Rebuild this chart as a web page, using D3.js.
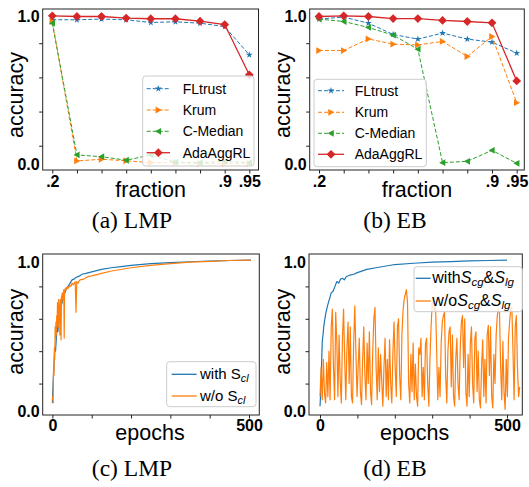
<!DOCTYPE html>
<html><head><meta charset="utf-8">
<script src="https://cdn.jsdelivr.net/npm/d3@7"></script>
<style>body{margin:0;background:#fff}svg{display:block}</style>
</head><body>
<svg id="chart" width="529" height="487"></svg>
<script>
// ---------------- data ----------------
const fractions = [".2", ".3", ".4", ".5", ".6", ".7", ".8", ".9", ".95"];
const fractionTickLabels = [".2", "", "", "", "", "", "", ".9", ".95"];
const methods = ["FLtrust", "Krum", "C-Median", "AdaAggRL"];
const yEndLabels = ["0.0", "1.0"];

// (a) LMP
const lmpFLtrust  = [0.937, 0.937, 0.941, 0.937, 0.921, 0.925, 0.917, 0.897, 0.732];
const lmpKrum     = [0.927, 0.111, 0.121, 0.112, 0.101, 0.101, 0.097, 0.097, 0.097];
const lmpCMedian  = [0.917, 0.146, 0.136, 0.115, 0.146, 0.103, 0.101, 0.109, 0.101];
const lmpAdaAggRL = [0.960, 0.956, 0.956, 0.947, 0.943, 0.943, 0.929, 0.909, 0.615];
// (b) EB
const ebFLtrust  = [0.941, 0.953, 0.917, 0.851, 0.824, 0.859, 0.824, 0.806, 0.742];
const ebKrum     = [0.757, 0.757, 0.825, 0.794, 0.790, 0.810, 0.722, 0.839, 0.452];
const ebCMedian  = [0.941, 0.927, 0.892, 0.847, 0.765, 0.101, 0.109, 0.173, 0.097];
const ebAdaAggRL = [0.956, 0.960, 0.956, 0.944, 0.944, 0.933, 0.927, 0.919, 0.579];

// (c) LMP training curves
const epochTicks = [0, 100, 200, 300, 400, 500];
const epochTickLabels = ["0", "", "", "", "", "500"];
const cWithEpochs = [0,2,4,6,8,10,12,14,16,18,20,22,25,28,30,35,40,45,50,55,60,65,70,75,85,100,125,150,175,200,250,300,350,400,450,505];
const cWithScl    = [0.08,0.22,0.31,0.42,0.40,0.48,0.55,0.52,0.60,0.58,0.65,0.68,0.70,0.74,0.75,0.78,0.80,0.82,0.84,0.845,0.855,0.86,0.865,0.875,0.88,0.89,0.905,0.915,0.922,0.93,0.94,0.947,0.952,0.956,0.96,0.962];
const cWoEpochs = [0,1,2,3,4,5,6,7,8,9,10,11,12,13,14,15,16,17,18,19,20,21,22,23,24,25,27,29,30,31,33,35,38,41,44,47,50,53,56,58,60,62,65,70,80,90,100,125,150,200,250,300,350,400,450,505];
const cWoScl    = [0.10,0.12,0.08,0.30,0.25,0.42,0.35,0.55,0.48,0.58,0.50,0.62,0.55,0.70,0.60,0.55,0.72,0.62,0.68,0.50,0.72,0.65,0.47,0.74,0.70,0.76,0.72,0.78,0.48,0.76,0.79,0.78,0.80,0.79,0.81,0.80,0.82,0.81,0.82,0.83,0.64,0.83,0.82,0.84,0.845,0.86,0.865,0.88,0.895,0.915,0.93,0.94,0.95,0.955,0.96,0.962];

// (d) EB training curves
const dWithEpochs = [0,2,4,6,8,10,13,16,20,25,30,35,40,45,50,55,60,65,70,80,90,100,125,150,200,250,300,350,400,450,500];
const dWithScgSlg = [0.06,0.15,0.30,0.46,0.50,0.55,0.60,0.64,0.68,0.72,0.76,0.77,0.80,0.83,0.82,0.845,0.85,0.84,0.86,0.87,0.875,0.885,0.905,0.915,0.935,0.943,0.95,0.953,0.957,0.96,0.962];
const dWoEpochStep = 3;
const dWoScgSlg = [
0.12,0.30,0.10,0.35,0.14,0.08,0.33,0.12,0.40,0.10,0.55,0.66,0.30,0.10,0.64,0.45,0.12,0.50,0.22,0.08,
0.48,0.66,0.35,0.10,0.42,0.58,0.20,0.55,0.12,0.08,0.45,0.68,0.40,0.12,0.30,0.48,0.15,0.07,0.35,0.55,
0.25,0.10,0.45,0.20,0.52,0.15,0.07,0.40,0.60,0.67,0.30,0.10,0.42,0.15,0.38,0.22,0.06,0.30,0.48,0.12,
0.35,0.10,0.47,0.20,0.08,0.40,0.58,0.30,0.12,0.55,0.60,0.25,0.10,0.50,0.65,0.72,0.75,0.78,0.70,0.20,
0.08,0.38,0.15,0.45,0.10,0.32,0.12,0.06,0.42,0.38,0.48,0.12,0.30,0.10,0.44,0.48,0.20,0.06,0.35,0.55,
0.70,0.72,0.65,0.68,0.40,0.10,0.30,0.12,0.45,0.58,0.62,0.64,0.25,0.08,0.40,0.52,0.55,0.18,0.50,0.12,
0.06,0.35,0.48,0.20,0.10,0.42,0.58,0.62,0.30,0.60,0.15,0.06,0.38,0.12,0.45,0.55,0.20,0.08,0.48,0.52,
0.15,0.40,0.10,0.05,0.30,0.47,0.12,0.35,0.08,0.50,0.56,0.25,0.55,0.12,0.05,0.38,0.20,0.50,0.62,0.66,
0.64,0.30,0.10,0.46,0.15,0.04,0.35,0.12,0.48,0.58,0.66,0.67,0.40,0.10,0.55,0.62,0.30,0.12,0.18];

const captions = ["(a) LMP", "(b) EB", "(c) LMP", "(d) EB"];

// ---------------- styles ----------------
const C = {blue: "#1f77b4", orange: "#ff7f0e", green: "#2ca02c", red: "#d62728"};
const SANS = "'Liberation Sans', Arial, sans-serif";
const svg = d3.select("#chart");

function markerPath(type, s) {
  if (type === "star") return d3.symbol(d3.symbolStar, s * s * 2.2)();
  if (type === "tri-right") return `M${s},0L${-s*0.8},${-s}L${-s*0.8},${s}Z`;
  if (type === "tri-left") return `M${-s},0L${s*0.8},${-s}L${s*0.8},${s}Z`;
  if (type === "diamond") return `M0,${-s}L${s},0L0,${s}L${-s},0Z`;
}

function panel(cfg) {
  const g = svg.append("g");
  const {L, R, T, B, x, y} = cfg;
  g.append("g").attr("transform", `translate(${L},0)`)
    .call(d3.axisLeft(cfg.yTickScale).tickValues([0.2, 0.4, 0.6, 0.8]).tickSize(3.5).tickFormat(""))
    .call(a => a.select(".domain").remove())
    .call(a => a.selectAll("line").attr("stroke", "#222"));
  const yl = g.append("g").attr("transform", `translate(${L},0)`)
    .call(d3.axisLeft(y).tickValues(y.domain()).tickSize(0).tickPadding(3)
      .tickFormat((d, i) => yEndLabels[i]));
  yl.select(".domain").remove();
  yl.selectAll("text").attr("font-family", SANS).attr("font-size", 16).attr("font-weight", "bold")
    .attr("fill", "#000").attr("dy", (d, i) => i === 0 ? cfg.yLowDy : cfg.yHighDy);
  const xa = g.append("g").attr("transform", `translate(0,${B})`)
    .call(d3.axisBottom(x).tickValues(cfg.xTicks).tickSize(3.5).tickPadding(0)
      .tickFormat((d, i) => cfg.xTickLabels[i]));
  xa.select(".domain").remove();
  xa.selectAll("line").attr("stroke", "#222");
  xa.selectAll("text").attr("font-family", SANS).attr("font-size", 16).attr("font-weight", "bold")
    .attr("fill", "#000").attr("y", 0).attr("dy", cfg.xLabelDy);
  g.append("text").attr("x", cfg.xTitle[0]).attr("y", cfg.xTitle[1]).attr("text-anchor", "middle")
    .attr("font-family", SANS).attr("font-size", 21.5).text(cfg.xTitleText);
  g.append("text").attr("transform", `translate(${cfg.yTitle[0]},${cfg.yTitle[1]}) rotate(-90)`)
    .attr("text-anchor", "middle").attr("font-family", SANS).attr("font-size", 21.5).text("accuracy");
  const plot = g.append("g");
  g.append("rect").attr("x", L).attr("y", T).attr("width", R - L).attr("height", B - T)
    .attr("fill", "none").attr("stroke", "#222").attr("stroke-width", 1);
  return {g, plot};
}

function addCaption(text, cx, by) {
  svg.append("text").attr("x", cx).attr("y", by).attr("text-anchor", "middle")
    .attr("font-family", "'Liberation Serif', 'Times New Roman', serif").attr("font-size", 23.5).text(text);
}

// ---------------- top panels ----------------
const topSeriesStyle = [
  {color: C.blue, dash: "4,2", marker: "star", ms: 2.6},
  {color: C.orange, dash: "4,2", marker: "tri-right", ms: 3.4},
  {color: C.green, dash: "4,2", marker: "tri-left", ms: 3.4},
  {color: C.red, dash: null, marker: "diamond", ms: 4.4}
];

function topPanel(L, R, x0, x8, series, legend) {
  const T = 9, B = 170;
  const step = (x8 - x0) / 8;
  const x = d3.scaleLinear().domain([(L - x0) / step, (R - x0) / step]).range([L, R]);
  const y = d3.scaleLinear().domain([0.058, 1.0]).range([B, T]);
  const {g, plot} = panel({L, R, T, B, x, y, yTickScale: y,
    yLowDy: "-0.05em", yHighDy: "0.8em",
    xTicks: d3.range(fractions.length), xTickLabels: fractionTickLabels, xLabelDy: 16.5,
    xTitleText: "fraction", xTitle: [(L + R) / 2, 196.5], yTitle: [L - 19.5, 95]});
  series.forEach((vals, si) => {
    const st = topSeriesStyle[si];
    const line = d3.line().x((d, i) => x(i)).y(d => y(d));
    plot.append("path").attr("d", line(vals)).attr("fill", "none").attr("stroke", st.color)
      .attr("stroke-width", si === 3 ? 1.3 : 1.0).attr("stroke-dasharray", st.dash);
    plot.selectAll(null).data(vals).enter().append("path")
      .attr("transform", (d, i) => `translate(${x(i)},${y(d)})`)
      .attr("d", markerPath(st.marker, st.ms)).attr("fill", st.color);
  });
  const lg = g.append("g");
  lg.append("rect").attr("x", legend.x0).attr("y", legend.y0).attr("width", legend.x1 - legend.x0)
    .attr("height", legend.y1 - legend.y0).attr("rx", 3).attr("fill", "#fff").attr("fill-opacity", 0.8)
    .attr("stroke", "#ccc").attr("stroke-width", 1);
  methods.forEach((m, i) => {
    const st = topSeriesStyle[i];
    const ry = legend.rows[i];
    lg.append("line").attr("x1", legend.l0).attr("x2", legend.l1).attr("y1", ry).attr("y2", ry)
      .attr("stroke", st.color).attr("stroke-width", i === 3 ? 1.3 : 1.0).attr("stroke-dasharray", st.dash);
    lg.append("path").attr("transform", `translate(${(legend.l0 + legend.l1) / 2},${ry})`)
      .attr("d", markerPath(st.marker, st.ms)).attr("fill", st.color);
    lg.append("text").attr("x", legend.tx).attr("y", ry + 5).attr("font-family", SANS)
      .attr("font-size", 14).text(m);
  });
}

topPanel(42.7, 258.5, 52.3, 249.3, [lmpFLtrust, lmpKrum, lmpCMedian, lmpAdaAggRL],
  {x0: 142.7, x1: 254, y0: 76, y1: 166, rows: [88.7, 110, 131.3, 152.7], l0: 146.7, l1: 170, tx: 182.7});
topPanel(309.7, 524.3, 319, 516.7, [ebFLtrust, ebKrum, ebCMedian, ebAdaAggRL],
  {x0: 314, x1: 426.3, y0: 79.3, y1: 166.7, rows: [90.7, 112.3, 133.3, 154.3], l0: 318, l1: 344, tx: 354.7});

// ---------------- bottom panels ----------------
function bottomPanel(L, R, xZero, x500, series, legend) {
  const T = 254, B = 415;
  const ppe = (x500 - xZero) / 500;
  const x = d3.scaleLinear().domain([(L - xZero) / ppe, (R - xZero) / ppe]).range([L, R]);
  const y = d3.scaleLinear().domain([0.006, 1.0]).range([B, T]);
  const {g, plot} = panel({L, R, T, B, x, y, yTickScale: y,
    yLowDy: "0.1em", yHighDy: "0.82em",
    xTicks: epochTicks, xTickLabels: epochTickLabels, xLabelDy: 15.5,
    xTitleText: "epochs", xTitle: [(L + R) / 2 - 1, 440], yTitle: [L - 19.5, 331.7]});
  series.forEach(s => {
    const line = d3.line().x(d => x(d[0])).y(d => y(d[1]));
    plot.append("path").attr("d", line(s.pts)).attr("fill", "none").attr("stroke", s.color)
      .attr("stroke-width", 1.2).attr("stroke-linejoin", "round");
  });
  const lg = g.append("g");
  lg.append("rect").attr("x", legend.x0).attr("y", legend.y0).attr("width", legend.x1 - legend.x0)
    .attr("height", legend.y1 - legend.y0).attr("rx", 3).attr("fill", "#fff").attr("fill-opacity", 0.8)
    .attr("stroke", "#ccc").attr("stroke-width", 1);
  series.forEach((s, i) => {
    const ry = legend.rows[i];
    lg.append("line").attr("x1", legend.l0).attr("x2", legend.l1).attr("y1", ry).attr("y2", ry)
      .attr("stroke", s.color).attr("stroke-width", 1.3);
    const t = lg.append("text").attr("x", legend.tx).attr("y", ry + 5).attr("font-family", SANS)
      .attr("font-size", legend.fs);
    s.label.forEach(part => {
      const ts = t.append("tspan").text(part.t);
      if (part.it) ts.attr("font-style", "italic");
      if (part.sub) ts.attr("font-size", legend.fs * 0.72).attr("dy", part.dy);
      else if (part.dy) ts.attr("dy", part.dy);
    });
  });
}

const zipE = (e, v) => e.map((d, i) => [d, v[i]]);
bottomPanel(42.7, 259.3, 52.4, 249,
  [{color: C.blue, pts: zipE(cWithEpochs, cWithScl),
    label: [{t: "with S"}, {t: "cl", it: true, sub: true, dy: 3}]},
   {color: C.orange, pts: zipE(cWoEpochs, cWoScl),
    label: [{t: "w/o S"}, {t: "cl", it: true, sub: true, dy: 3}]}],
  {x0: 166.7, x1: 256, y0: 361.7, y1: 406.7, rows: [374.3, 396], l0: 171.7, l1: 196.7, tx: 200, fs: 15});
bottomPanel(309, 522.3, 320, 507,
  [{color: C.blue, pts: zipE(dWithEpochs, dWithScgSlg),
    label: [{t: "with"}, {t: "S", it: true}, {t: "cg", it: true, sub: true, dy: 3}, {t: "&", dy: -3},
            {t: "S", it: true}, {t: "lg", it: true, sub: true, dy: 3}]},
   {color: C.orange, pts: dWoScgSlg.map((v, i) => [i * dWoEpochStep, v]),
    label: [{t: "w/o"}, {t: "S", it: true}, {t: "cg", it: true, sub: true, dy: 3}, {t: "&", dy: -3},
            {t: "S", it: true}, {t: "lg", it: true, sub: true, dy: 3}]}],
  {x0: 414, x1: 522.3, y0: 266.7, y1: 311.7, rows: [278.3, 301], l0: 415.7, l1: 430.7, tx: 432.3, fs: 16});

addCaption(captions[0], 132, 228.3);
addCaption(captions[1], 395, 228.3);
addCaption(captions[2], 132, 476);
addCaption(captions[3], 395, 476);
</script>
</body></html>
